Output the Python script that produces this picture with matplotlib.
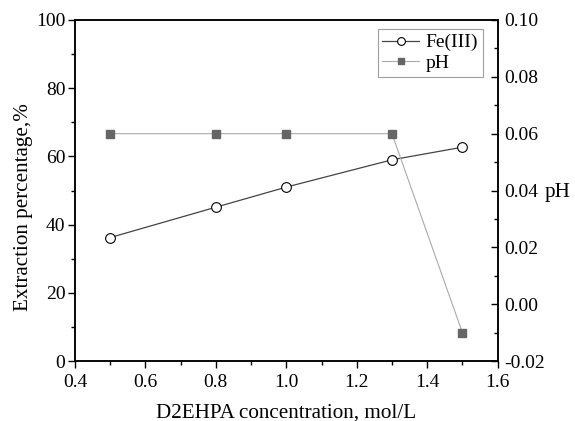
import matplotlib
matplotlib.use("Agg")
import matplotlib.pyplot as plt
from matplotlib.ticker import MultipleLocator

plt.rcParams['font.family'] = 'Liberation Serif'

conc = [0.5, 0.8, 1.0, 1.3, 1.5]
fe_ext = [36.2, 45.1, 51.0, 59.0, 62.7]
ph = [0.06, 0.06, 0.06, 0.06, -0.01]

fig = plt.figure(figsize=(5.75, 4.21), dpi=100)
ax = fig.add_axes([0.1304, 0.1425, 0.735, 0.81])
ax2 = ax.twinx()

l1, = ax.plot(conc, fe_ext, color='#444444', lw=0.9, marker='o', ms=7,
              mfc='white', mec='black', mew=0.8, label='Fe(III)')
l2, = ax2.plot(conc, ph, color='#aaaaaa', lw=0.8, marker='s', ms=6,
               mfc='#666666', mec='#666666', label='pH')

ax.set_xlim(0.4, 1.6)
ax.set_ylim(0, 100)
ax2.set_ylim(-0.02, 0.10)
ax.xaxis.set_major_locator(MultipleLocator(0.2))
ax.xaxis.set_minor_locator(MultipleLocator(0.1))
ax.yaxis.set_major_locator(MultipleLocator(20))
ax.yaxis.set_minor_locator(MultipleLocator(10))
ax2.yaxis.set_major_locator(MultipleLocator(0.02))
ax2.yaxis.set_minor_locator(MultipleLocator(0.01))
ax2.yaxis.set_major_formatter(plt.FormatStrFormatter('%.2f'))
ax.xaxis.set_major_formatter(plt.FormatStrFormatter('%.1f'))

for a in (ax, ax2):
    a.tick_params(which='major', direction='out', length=5, width=1,
                  labelsize=14, pad=2)
    a.tick_params(which='minor', direction='out', length=3, width=1)
    for s in a.spines.values():
        s.set_linewidth(1.1)
ax.tick_params(axis='x', pad=4)
# right axis ticks point inward in the original
ax2.tick_params(axis='y', which='both', direction='in')
ax2.tick_params(axis='y', which='major', pad=5)

ax.set_xlabel('D2EHPA concentration, mol/L', fontsize=15.2)
ax.xaxis.set_label_coords(0.5, -0.124)
ax.set_ylabel('Extraction percentage,%', fontsize=15.2)
ax.yaxis.set_label_coords(-0.099, 0.452)
ax2.set_ylabel('pH', fontsize=15.2, rotation=0, ha='center', va='center')
ax2.yaxis.set_label_coords(1.142, 0.493)

leg = ax.legend(handles=[l1, l2], loc='upper right', fontsize=14,
                bbox_to_anchor=(0.9645, 0.974), borderaxespad=0,
                fancybox=False, edgecolor='#888888', markerscale=0.8,
                handlelength=1.9, handletextpad=0.3, borderpad=0.25,
                labelspacing=0.15)
leg.get_frame().set_linewidth(0.8)

fig.savefig('out.png', dpi=100)
